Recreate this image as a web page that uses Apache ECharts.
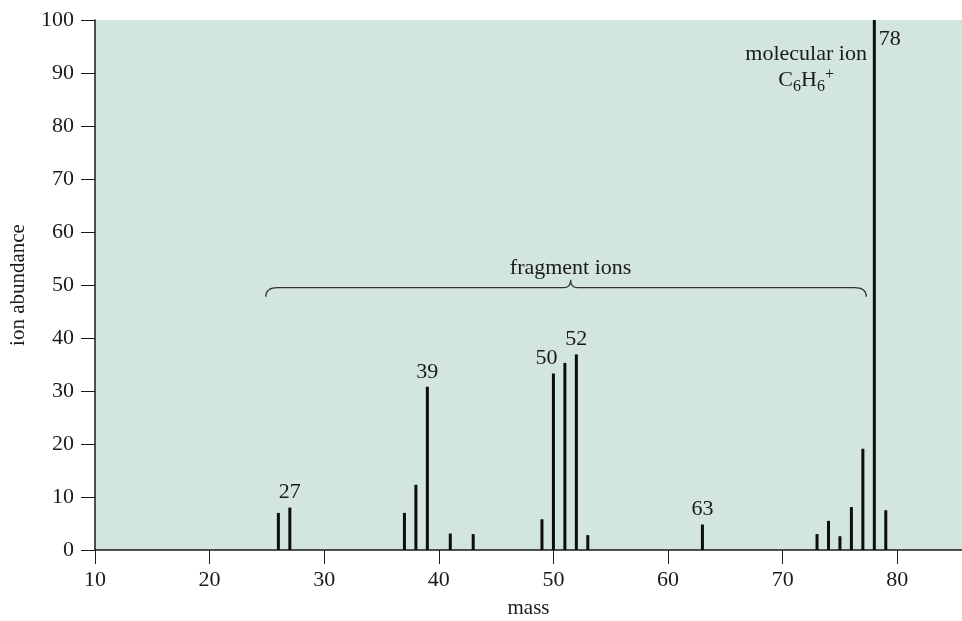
<!DOCTYPE html>
<html>
<head>
<meta charset="utf-8">
<script src="https://cdn.jsdelivr.net/npm/echarts@6/dist/echarts.min.js"></script>
<style>
  html, body { margin: 0; padding: 0; background: #ffffff; }
  #chart { width: 962px; height: 621px; }
</style>
</head>
<body>
<div id="chart"></div>
<script>
// Mass spectrum of benzene
const masses     = [26, 27, 37, 38, 39, 41, 43, 49, 50, 51, 52, 53, 63, 73, 74, 75, 76, 77, 78, 79];
const abundances = [7, 8, 7, 12.3, 30.8, 3.1, 3, 5.8, 33.3, 35.3, 36.9, 2.8, 4.8, 3, 5.5, 2.6, 8.1, 19.1, 100, 7.5];
const labelledMasses = [27, 39, 50, 52, 63, 78];
const xTicks = [10, 20, 30, 40, 50, 60, 70, 80];
const yTicks = [0, 10, 20, 30, 40, 50, 60, 70, 80, 90, 100];

// Brace spanning the fragment ions: [start mass, end mass, tip mass, level]
const braceSpan = [24.9, 77.3, 51.5, 49.5];
// Centre of the molecular-ion caption: [mass, abundance]
const molecularIonAnchor = [72.05, 91.0];

const FONT = '"Liberation Serif", "DejaVu Serif", serif';
const INK = '#1a1a1a';

const chart = echarts.init(document.getElementById('chart'));

const barData = masses.map((m, i) => {
  const item = { value: [m, abundances[i]] };
  if (labelledMasses.includes(m)) {
    item.label = { show: true, position: 'top', distance: 4, formatter: String(m) };
    if (m === 50) item.label.offset = [-7, 0];
    if (m === 78) item.label = { show: true, position: 'insideTopLeft', offset: [6, 8], distance: 0, formatter: '78' };
  }
  return item;
});

chart.setOption({
  animation: false,
  grid: {
    left: 95, right: 0, top: 20, bottom: 71,
    outerBoundsMode: 'none', containLabel: false,
    show: true, backgroundColor: '#d3e5df', borderWidth: 0
  },
  xAxis: {
    type: 'value', min: 10, max: 85.65, interval: 10,
    name: 'mass', nameLocation: 'middle', nameGap: 48,
    nameTextStyle: { fontFamily: FONT, fontSize: 21, color: INK },
    axisLine: { show: true, onZero: false, lineStyle: { color: INK, width: 1.5 } },
    axisTick: { show: true, inside: false, length: 14, lineStyle: { color: INK, width: 1 } },
    axisLabel: {
      fontFamily: FONT, fontSize: 22, color: INK, margin: 19,
      showMaxLabel: false,
      formatter: v => (xTicks.includes(v) ? String(v) : '')
    },
    splitLine: { show: false }
  },
  yAxis: {
    type: 'value', min: 0, max: 100, interval: 10,
    name: 'ion abundance', nameLocation: 'middle', nameGap: 66, nameRotate: 90,
    nameTextStyle: { fontFamily: FONT, fontSize: 21, color: INK },
    axisLine: { show: true, lineStyle: { color: INK, width: 1.5 } },
    axisTick: { show: true, inside: false, length: 14, lineStyle: { color: INK, width: 1 } },
    axisLabel: {
      fontFamily: FONT, fontSize: 22, color: INK, margin: 21,
      formatter: v => (yTicks.includes(v) ? String(v) : '')
    },
    splitLine: { show: false }
  },
  series: [
    {
      type: 'bar',
      data: barData,
      barWidth: 3,
      itemStyle: { color: '#0d0d0d' },
      label: { fontFamily: FONT, fontSize: 22, color: INK }
    },
    {
      // fragment-ion brace with its caption
      type: 'custom',
      silent: true,
      data: [braceSpan],
      renderItem: (params, api) => {
        const x0 = api.value(0), x1 = api.value(1), xt = api.value(2), lv = api.value(3);
        const pL = api.coord([x0, lv]);
        const pR = api.coord([x1, lv]);
        const pT = api.coord([xt, lv]);
        const y = pL[1];
        const d = [
          'M', pL[0], y + 9,
          'Q', pL[0], y, pL[0] + 12, y,
          'L', pT[0] - 7, y,
          'Q', pT[0], y, pT[0], y - 8,
          'Q', pT[0], y, pT[0] + 7, y,
          'L', pR[0] - 12, y,
          'Q', pR[0], y, pR[0], y + 9
        ].join(' ');
        return {
          type: 'group',
          children: [
            {
              type: 'path',
              shape: { pathData: d },
              style: { fill: 'none', stroke: '#333', lineWidth: 1.2 }
            },
            {
              type: 'text',
              style: {
                text: 'fragment ions', x: pT[0], y: y - 8,
                align: 'center', verticalAlign: 'bottom',
                font: '22px ' + FONT, fill: INK
              }
            }
          ]
        };
      }
    },
    {
      // molecular-ion caption beside the base peak
      type: 'custom',
      silent: true,
      data: [molecularIonAnchor],
      renderItem: (params, api) => {
        const p = api.coord([api.value(0), api.value(1)]);
        return {
          type: 'text',
          style: {
            x: p[0], y: p[1],
            align: 'center', verticalAlign: 'middle',
            text: '{t|molecular ion}\n{c|C}{sub|6}{c|H}{sub|6}{sup|+}',
            rich: {
              t: { font: '22px ' + FONT, fill: INK, lineHeight: 26 },
              c: { font: '22px ' + FONT, fill: INK, lineHeight: 26 },
              sub: { font: '16px ' + FONT, fill: INK, lineHeight: 26, padding: [12, 0, 0, 0] },
              sup: { font: '16px ' + FONT, fill: INK, lineHeight: 26, padding: [0, 0, 12, 0] }
            }
          }
        };
      }
    }
  ]
});
</script>
</body>
</html>
